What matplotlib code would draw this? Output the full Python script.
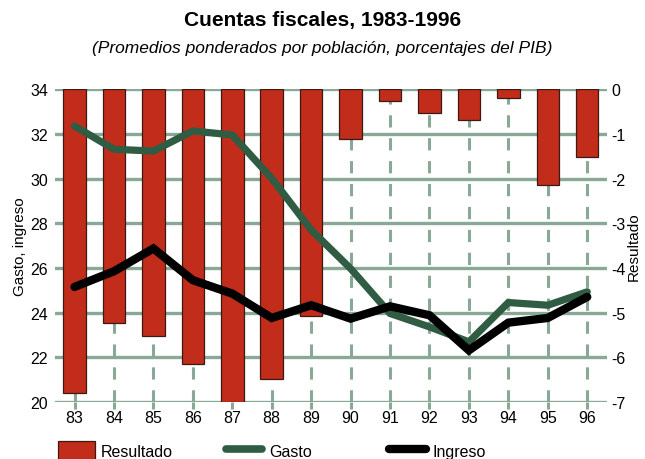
import matplotlib

matplotlib.use('Agg')
import matplotlib.pyplot as plt
from matplotlib.lines import Line2D
from matplotlib.patches import Patch

plt.rcParams['font.family'] = ['Liberation Sans Narrow', 'Liberation Sans', 'DejaVu Sans']

years = [83, 84, 85, 86, 87, 88, 89, 90, 91, 92, 93, 94, 95, 96]
resultado = [-6.81, -5.23, -5.53, -6.14, -7.0, -6.49, -5.07,
             -1.11, -0.26, -0.53, -0.70, -0.20, -2.15, -1.52]
gasto = [32.35, 31.31, 31.23, 32.13, 31.95, 30.01, 27.7,
         25.97, 23.96, 23.36, 22.69, 24.45, 24.33, 24.93]
ingreso = [25.15, 25.85, 26.87, 25.45, 24.85, 23.76, 24.33,
           23.73, 24.28, 23.88, 22.31, 23.55, 23.76, 24.70]

left_ticks = [20, 22, 24, 26, 28, 30, 32, 34]
right_ticks = [-7, -6, -5, -4, -3, -2, -1, 0]

red = '#c22d1b'
green = '#2f5c43'
grid = '#8aa896'

fig = plt.figure(figsize=(6.45, 4.6), dpi=100)
ax = fig.add_axes([0.085, 0.124, 0.856, 0.68])
ax2 = ax.twinx()

# bars on the main axes (right scale)
ax.vlines(years, -7, 0, colors=grid, linestyles=(0, (4, 3.5)), linewidth=2.2, zorder=1)
ax.bar(years, resultado, width=0.57, color=red, edgecolor='#3a1a12', linewidth=0.9, zorder=3)
ax.set_ylim(-7, 0)
ax.set_xlim(82.5, 96.5)
ax.set_yticks(right_ticks)
ax.set_yticklabels([str(t) for t in right_ticks])
ax.set_xticks(years)
ax.set_xticklabels([str(y) for y in years])
ax.yaxis.tick_right()
ax.yaxis.set_label_position('right')
ax.set_ylabel('Resultado', fontsize=11, labelpad=1)
ax.grid(axis='y', color=grid, linewidth=2.4, zorder=0)
ax.set_axisbelow(True)
ax.tick_params(axis='x', length=5, width=2.2, color=grid, labelsize=11.5, pad=1)
ax.tick_params(axis='y', length=0, labelsize=11.5, pad=3)
for s in ax.spines.values():
    s.set_visible(False)

# lines on the twin axes (left scale)
ax2.plot(years, gasto, color=green, linewidth=5.2, solid_capstyle='round', solid_joinstyle='miter', zorder=4)
ax2.plot(years, ingreso, color='black', linewidth=6, solid_capstyle='round', solid_joinstyle='miter', zorder=5)
ax2.set_ylim(20, 34)
ax2.set_yticks(left_ticks)
ax2.set_yticklabels([str(t) for t in left_ticks])
ax2.yaxis.tick_left()
ax2.yaxis.set_label_position('left')
ax2.set_ylabel('Gasto, ingreso', fontsize=11, labelpad=2)
ax2.tick_params(axis='y', length=0, labelsize=11.5, pad=5)
for s in ax2.spines.values():
    s.set_visible(False)

fig.text(0.5, 0.955, 'Cuentas fiscales, 1983-1996', ha='center', va='center',
         fontsize=15, fontweight='bold')
fig.text(0.5, 0.895, '(Promedios ponderados por población, porcentajes del PIB)',
         ha='center', va='center', fontsize=12.5, style='italic')

handles = [
    Patch(facecolor=red, edgecolor='#3a1a12', linewidth=0.9, label='Resultado'),
    Line2D([], [], color=green, linewidth=5.5, solid_capstyle='round', label='Gasto'),
    Line2D([], [], color='black', linewidth=6, solid_capstyle='round', label='Ingreso'),
]
xs = [0.09, 0.35, 0.603]
for h, x in zip(handles, xs):
    fig.legend(handles=[h], loc='center left', bbox_to_anchor=(x, 0.018), frameon=False,
               fontsize=11.5, handlelength=2.3, handleheight=1.4, handletextpad=0.4,
               borderpad=0, borderaxespad=0)

fig.savefig('out.png', dpi=100)
